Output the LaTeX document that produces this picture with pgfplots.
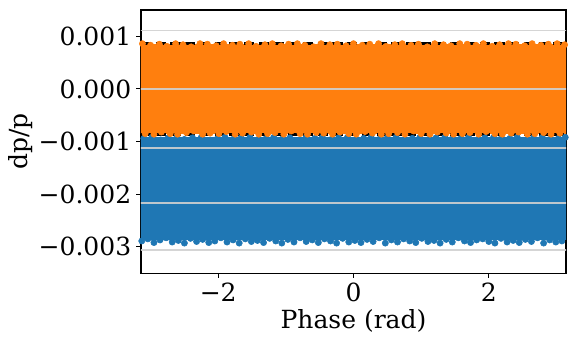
\documentclass[border=0pt]{standalone}
\usepackage{pgfplots}
\pgfplotsset{compat=1.18}
\usepackage{fontspec}
\setmainfont{DejaVu Serif}

\definecolor{c0}{HTML}{1F77B4}
\definecolor{c1}{HTML}{FF7F0E}
\definecolor{gridc}{HTML}{D0D0D0}

\begin{document}
\begin{tikzpicture}
\useasboundingbox (-101.5pt,-51.1pt) rectangle (314.6pt,196.6pt);
\begin{axis}[
scale only axis,width=306pt,height=189.4pt,
font=\fontsize{18}{21}\selectfont,
xmin=-3.14159,xmax=3.14159,ymin=-0.0035,ymax=0.0015,
xtick={-2,0,2},xticklabels={−2,0,2},
ytick={-0.003,-0.002,-0.001,0,0.001},
yticklabels={−0.003,−0.002,−0.001,0.000,0.001},
scaled ticks=false,
axis line style={black,line width=0.8pt},
tick style={black,line width=0.8pt},
tick align=outside,major tick length=3.5pt,
xtick pos=bottom,ytick pos=left,
xlabel={Phase (rad)},ylabel={dp/p},
every axis x label/.style={at={(axis description cs:0.5,0)},yshift=-34.6pt,anchor=center},
every axis y label/.style={at={(axis description cs:0,0.5)},xshift=-86.4pt,rotate=90,anchor=center},
clip=true
]
% blue band
\addplot[draw=none,fill=c0,mark=none] coordinates {(-3.3,-0.00287) (3.3,-0.00287) (3.3,-0.00092) (-3.3,-0.00092)};
\addplot[only marks,mark=*,mark size=2.24pt,c0,mark options={draw=none,fill=c0}] coordinates {
(-3.10,-0.00094) (-2.98,-0.00092) (-2.85,-0.00097) (-2.74,-0.00093) (-2.61,-0.00092) (-2.50,-0.00096) (-2.38,-0.00093) (-2.25,-0.00092) (-2.14,-0.00098) (-2.01,-0.00094) (-1.90,-0.00092) (-1.77,-0.00095) (-1.66,-0.00093) (-1.53,-0.00092) (-1.42,-0.00097) (-1.29,-0.00094) (-1.18,-0.00092) (-1.05,-0.00095) (-0.94,-0.00093) (-0.81,-0.00098) (-0.70,-0.00092) (-0.57,-0.00094) (-0.46,-0.00092) (-0.33,-0.00096) (-0.22,-0.00093) (-0.09,-0.00092) (0.02,-0.00097) (0.15,-0.00094) (0.26,-0.00092) (0.39,-0.00095) (0.50,-0.00093) (0.63,-0.00092) (0.74,-0.00098) (0.87,-0.00094) (0.98,-0.00092) (1.11,-0.00096) (1.22,-0.00093) (1.35,-0.00092) (1.46,-0.00095) (1.59,-0.00094) (1.70,-0.00092) (1.83,-0.00097) (1.94,-0.00093) (2.07,-0.00092) (2.18,-0.00095) (2.31,-0.00094) (2.42,-0.00092) (2.55,-0.00098) (2.66,-0.00093) (2.79,-0.00092) (2.90,-0.00096) (3.03,-0.00094) (3.13,-0.00092)
(-3.13,-0.00289) (-3.04,-0.00285) (-2.95,-0.00292) (-2.86,-0.00287) (-2.77,-0.00283) (-2.68,-0.00291) (-2.59,-0.00288) (-2.50,-0.00293) (-2.41,-0.00284) (-2.32,-0.00290) (-2.23,-0.00286) (-2.14,-0.00292) (-2.05,-0.00289) (-1.96,-0.00283) (-1.87,-0.00291) (-1.78,-0.00287) (-1.69,-0.00293) (-1.60,-0.00285) (-1.51,-0.00290) (-1.42,-0.00288) (-1.33,-0.00292) (-1.24,-0.00284) (-1.15,-0.00289) (-1.06,-0.00293) (-0.97,-0.00286) (-0.88,-0.00291) (-0.79,-0.00283) (-0.70,-0.00290) (-0.61,-0.00287) (-0.52,-0.00292) (-0.43,-0.00285) (-0.34,-0.00289) (-0.25,-0.00293) (-0.16,-0.00284) (-0.07,-0.00291) (0.02,-0.00288) (0.11,-0.00292) (0.20,-0.00286) (0.29,-0.00290) (0.38,-0.00283) (0.47,-0.00293) (0.56,-0.00287) (0.65,-0.00291) (0.74,-0.00285) (0.83,-0.00289) (0.92,-0.00292) (1.01,-0.00284) (1.10,-0.00290) (1.19,-0.00288) (1.28,-0.00293) (1.37,-0.00286) (1.46,-0.00291) (1.55,-0.00283) (1.64,-0.00289) (1.73,-0.00292) (1.82,-0.00287) (1.91,-0.00285) (2.00,-0.00290) (2.09,-0.00293) (2.18,-0.00284) (2.27,-0.00291) (2.36,-0.00288) (2.45,-0.00292) (2.54,-0.00286) (2.63,-0.00290) (2.72,-0.00283) (2.81,-0.00293) (2.90,-0.00287) (2.99,-0.00291) (3.08,-0.00289)
};
% orange band
\addplot[draw=none,fill=c1,mark=none] coordinates {(-3.3,-0.00086) (3.3,-0.00086) (3.3,0.00086) (-3.3,0.00086)};
\addplot[only marks,mark=*,mark size=2.24pt,c1,mark options={draw=none,fill=c1}] coordinates {
(-3.12,0.00086) (-3.00,0.00083) (-2.87,0.00085) (-2.76,0.00081) (-2.63,0.00086) (-2.52,0.00084) (-2.40,0.00080) (-2.27,0.00086) (-2.16,0.00085) (-2.03,0.00082) (-1.92,0.00086) (-1.79,0.00083) (-1.68,0.00085) (-1.55,0.00086) (-1.44,0.00081) (-1.31,0.00084) (-1.20,0.00086) (-1.07,0.00082) (-0.96,0.00085) (-0.83,0.00086) (-0.72,0.00083) (-0.59,0.00080) (-0.48,0.00086) (-0.35,0.00084) (-0.24,0.00085) (-0.11,0.00082) (0.00,0.00086) (0.13,0.00083) (0.24,0.00085) (0.37,0.00086) (0.48,0.00081) (0.61,0.00084) (0.72,0.00086) (0.85,0.00083) (0.96,0.00085) (1.09,0.00080) (1.20,0.00086) (1.33,0.00084) (1.44,0.00082) (1.57,0.00086) (1.68,0.00085) (1.81,0.00083) (1.92,0.00086) (2.05,0.00081) (2.16,0.00084) (2.29,0.00086) (2.40,0.00085) (2.53,0.00082) (2.64,0.00086) (2.77,0.00083) (2.88,0.00085) (3.01,0.00086) (3.12,0.00084)
(-3.08,-0.00085) (-2.95,-0.00086) (-2.84,-0.00082) (-2.71,-0.00085) (-2.60,-0.00086) (-2.47,-0.00083) (-2.36,-0.00080) (-2.23,-0.00086) (-2.12,-0.00084) (-1.99,-0.00085) (-1.88,-0.00081) (-1.75,-0.00086) (-1.64,-0.00084) (-1.51,-0.00082) (-1.40,-0.00086) (-1.27,-0.00085) (-1.16,-0.00083) (-1.03,-0.00086) (-0.92,-0.00080) (-0.79,-0.00085) (-0.68,-0.00086) (-0.55,-0.00083) (-0.44,-0.00084) (-0.31,-0.00086) (-0.20,-0.00082) (-0.07,-0.00085) (0.04,-0.00086) (0.17,-0.00081) (0.28,-0.00084) (0.41,-0.00086) (0.52,-0.00085) (0.65,-0.00083) (0.76,-0.00086) (0.89,-0.00080) (1.00,-0.00085) (1.13,-0.00086) (1.24,-0.00082) (1.37,-0.00084) (1.48,-0.00086) (1.61,-0.00085) (1.72,-0.00083) (1.85,-0.00086) (1.96,-0.00081) (2.09,-0.00085) (2.20,-0.00086) (2.33,-0.00084) (2.44,-0.00082) (2.57,-0.00086) (2.68,-0.00085) (2.81,-0.00083) (2.92,-0.00086) (3.05,-0.00084)
};
% light horizontal lines
\addplot[gridc,line width=1pt,opacity=0.9,mark=none] coordinates {(-3.3,0.00111) (3.3,0.00111)};
\addplot[gridc,line width=1pt,opacity=0.9,mark=none] coordinates {(-3.3,0) (3.3,0)};
\addplot[gridc,line width=1pt,opacity=0.9,mark=none] coordinates {(-3.3,-0.00112) (3.3,-0.00112)};
\addplot[gridc,line width=1pt,opacity=0.9,mark=none] coordinates {(-3.3,-0.00217) (3.3,-0.00217)};
\addplot[gridc,line width=1pt,opacity=0.9,mark=none] coordinates {(-3.3,-0.00306) (3.3,-0.00306)};
% dashed limits
\addplot[black,line width=2pt,dash pattern=on 7.4pt off 3.2pt,mark=none] coordinates {(-3.14159,0.00086) (3.14159,0.00086)};
\addplot[black,line width=2pt,dash pattern=on 7.4pt off 3.2pt,mark=none] coordinates {(-3.14159,-0.00086) (3.14159,-0.00086)};
\end{axis}
\end{tikzpicture}
\end{document}
